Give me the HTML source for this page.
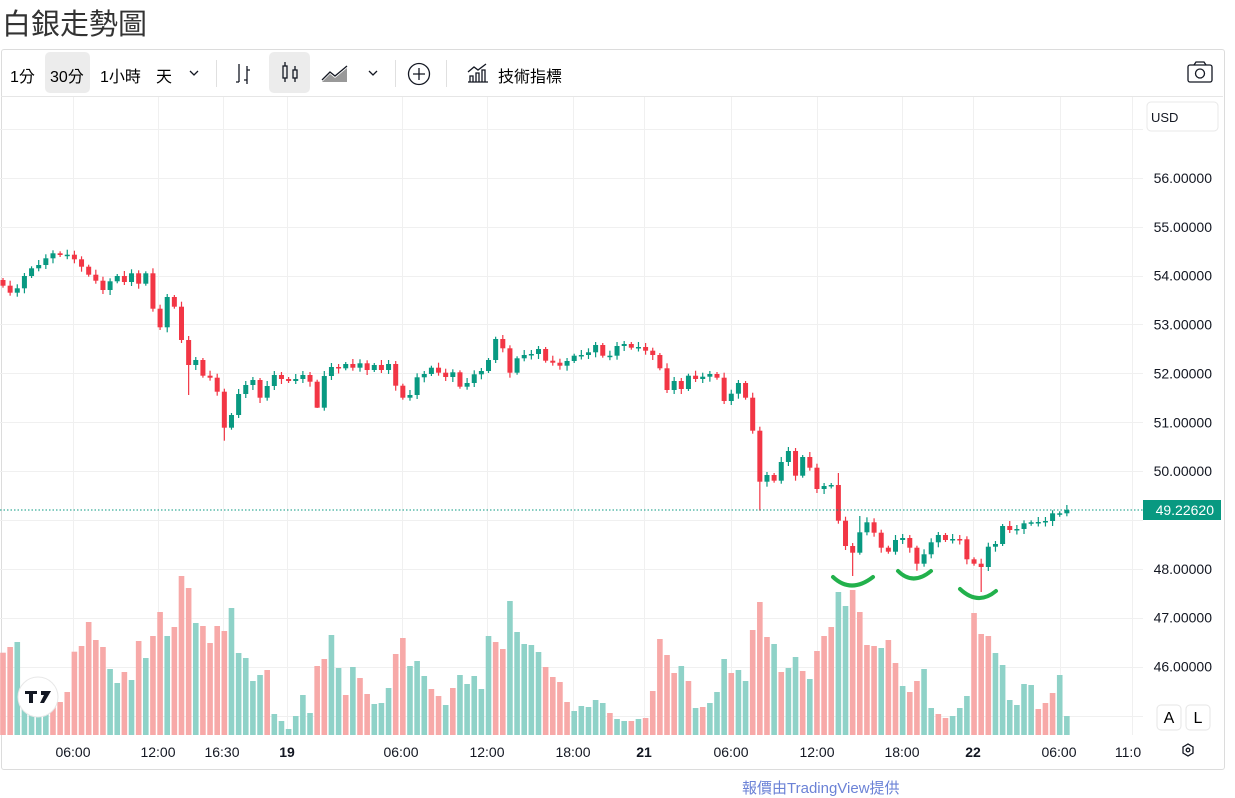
<!DOCTYPE html>
<html><head><meta charset="utf-8">
<style>
body{margin:0;width:1235px;height:787px;overflow:hidden;background:#fff;font-family:"Liberation Sans","Noto Sans CJK TC",sans-serif;position:relative}
.title{position:absolute;left:2px;top:1px;font-size:29px;color:#333;font-family:"Liberation Sans","Noto Sans CJK TC",sans-serif}
.box{position:absolute;left:1px;top:49px;width:1222px;height:719px;border:1px solid #dcdcdc;border-radius:3px}
.tb{position:absolute;left:1px;top:50px;width:1222px;height:46px;border-bottom:1px solid #e6e6e6}
.sel{position:absolute;background:#ececec;border-radius:5px}
.sep{position:absolute;top:60px;width:1px;height:27px;background:#e0e0e0}
.foot{position:absolute;left:742px;top:777px;font-size:15px;color:#6b82d6}
</style></head><body>
<div class="title">白銀走勢圖</div>
<div class="box"></div>
<div class="tb"></div>
<div class="sel" style="left:45px;top:52px;width:45px;height:41px"></div>
<div class="sel" style="left:269px;top:52px;width:41px;height:41px"></div>
<span style="position:absolute;left:10px;top:63px;font-size:16px">1分</span>
<span style="position:absolute;left:50px;top:63px;font-size:16px">30分</span>
<span style="position:absolute;left:100px;top:63px;font-size:16px">1小時</span>
<span style="position:absolute;left:156px;top:63px;font-size:16px">天</span>
<span style="position:absolute;left:498px;top:63px;font-size:16px">技術指標</span>
<div class="sep" style="left:216px"></div><div class="sep" style="left:395px"></div><div class="sep" style="left:446px"></div>
<svg style="position:absolute;left:0;top:0" width="1235" height="787">
<g fill="none" stroke="#131722" stroke-width="1.3">
<path d="M190 71l4 4 4-4"/><path d="M369 71l4 4 4-4"/><path d="M1206 114l3 3 3-3"/>
<path d="M239 64v18M236 82h3M247 66v18M247 70h3M247 80h-3"/>
<rect x="283" y="66" width="4" height="12"/><path d="M285 62v4M285 78v4"/><rect x="293" y="70" width="4" height="8"/><path d="M295 66v4M295 78v4"/>
<path d="M322 80l8-8 5 4 12-10"/>
<circle cx="419" cy="74" r="10.5"/><path d="M419 68v12M413 74h12"/>
<path d="M468 82h20M470 82v-6h3v6M476 82v-9h3v9M482 82v-12h3v12M468 72l6-5 4 3 8-6"/>
<rect x="1188" y="65" width="24" height="17" rx="2"/><circle cx="1200" cy="73.5" r="4.5"/><path d="M1194 65l2-3h8l2 3"/>
<path d="M1183 747l5-3 5 3v6l-5 3-5-3z"/><circle cx="1188" cy="750" r="1.8"/>
</g>
<path d="M322 82l8-8 5 4 12-10v14z" fill="#555" opacity=".6"/>
<g id="grid" stroke="#f0f0f0" stroke-width="1"></g>
<g id="vol"></g><g id="cnd"></g>
<line x1="0" y1="510" x2="1143" y2="510" stroke="#089981" stroke-dasharray="1.5,2" stroke-width="1"/>
<g id="lab" font-size="14" fill="#131722" font-family="Liberation Sans,sans-serif"></g>
<rect x="1143" y="500" width="78" height="20" fill="#089981"/>
<text x="1214" y="515" text-anchor="end" fill="#fff" font-size="14" font-family="Liberation Sans,sans-serif">49.22620</text>
<rect x="1147" y="102" width="71" height="29" rx="4" fill="#fff" stroke="#e8e8e8"/>
<text x="1151" y="122" font-size="13" fill="#131722" font-family="Liberation Sans,sans-serif">USD</text>
<rect x="1157" y="705" width="24" height="25" rx="4" fill="#fff" stroke="#e6e6e6"/><text x="1169" y="723" font-size="16" text-anchor="middle" font-family="Liberation Sans,sans-serif">A</text>
<rect x="1186" y="705" width="24" height="25" rx="4" fill="#fff" stroke="#e6e6e6"/><text x="1198" y="723" font-size="16" text-anchor="middle" font-family="Liberation Sans,sans-serif">L</text>
<circle cx="38" cy="697" r="20" fill="#fff" stroke="#e8e8e8"/>
<path d="M25 691h12v3h-4v9h-4v-9h-4z M41 691h10l-7 12h-4l4-8h-3z" fill="#131722"/>
<g fill="none" stroke="#22b14c" stroke-width="4" stroke-linecap="round">
<path d="M833 577q18 17 40 0"/><path d="M898 571q15 15 33 0"/><path d="M960 589q18 17 36 2"/>
</g>
</svg>
<div class="foot">報價由TradingView提供</div>
<script>
(function(){
var C=[285.7,292.7,288.3,276,268.3,265,258.3,253.3,255,254.7,259.3,266.7,274.7,280.7,290,281.3,276,282,273.3,283.7,273.3,308.7,327.3,297,306.7,340,365,360,375.7,377.7,391.7,427.7,415,394,385,380,397.7,386,375,379,381,379,375,381.7,407.7,376,367,368.3,364,367.7,363.3,370,365,370,364,385.7,397.7,395,377.3,374,367.7,372.7,377,372.3,386.7,383,374.3,371,360,339,348.3,372.7,358.3,355,354,349,360.7,362.7,365.7,361,355.7,355,352.3,345,355.7,355.7,346,344,347.7,347,350.7,355,368.3,390,381,389,375.7,379,376.7,374,377.7,401,393.7,383,397.7,430.7,481.7,475,480.7,462,451,475.7,457,467.7,489,486,485,520.7,546,552.7,532.3,522.3,532.7,547.7,551.7,540,538,547.7,563.7,554.3,542.3,535,540,539,539.3,559.3,563.7,567,546.7,544,526,530,529,523.3,522.3,522,521,513.3,513.3,510];
var V=[652.7,647,642,700,698,700,696,700,702,692,651.7,646,622,640,647,669,683,672,680,641,658,636,612,636,627,576,588,623,626,643,626,631,608,653,658,681,675,670,714,721,729,716,695,713,666,659,635,668,695,667,678,694,704,703,688,654,638,666,661,676,689,696,705,688,675,684,676,689,636,642,649,601,632,644,645,652,667,677,682,702,711,706,707,700,703,713,719,721,721,719,718,691,639,655,673,666,681,708,707,703,692,659,673,670,681,630,602,637,644,672,668,657,671,679,651,636,627,592,606,590,612,645,646,648,640,663,686,692,681,669,708,714,718,716,708,696,613,634,636,653,665,700,705,684,685,709,703,693,675,716];
var VC="rrgggggrrrrrrrrggrgrgrrgrrrgrrrrgggggrggggggrrggrgrrgggrrgggrrgrgggggrrgggggrrrrgggggrggrgrrrrrgrgrgggrggrrrgrggrgrrrggrrrrgrrgrrggrrgggrrrggggggrrrggggrrgggggrg";
var H={26:{l:395},31:{l:440.7},36:{l:403},44:{l:408},69:{h:336.7},106:{l:510.7},117:{h:473},119:{l:576},120:{h:516},128:{l:570.7},137:{l:592},22:{l:330}};
var ns="http://www.w3.org/2000/svg";
function el(p,t,a){var e=document.createElementNS(ns,t);for(var k in a)e.setAttribute(k,a[k]);p.appendChild(e);return e;}
var g=document.getElementById('grid');
[129,178,227,276,324,373,422,471,520,569,618,667,716].forEach(function(y){el(g,'line',{x1:0,y1:y+.5,x2:1143,y2:y+.5});});
[73,158,223,287,402,487,573,644,731,817,902,973,1060,1132].forEach(function(x){el(g,'line',{x1:x+.5,y1:97,x2:x+.5,y2:735});});
var lab=document.getElementById('lab');
var prices=['56.00000','55.00000','54.00000','53.00000','52.00000','51.00000','50.00000','49.00000','48.00000','47.00000','46.00000'];
prices.forEach(function(p,i){var y=178+i*48.86;if(i==7)return;var t=el(lab,'text',{x:1212,y:y+5,'text-anchor':'end'});t.textContent=p;});
var tl=[[73,'06:00'],[158,'12:00'],[222,'16:30'],[287,'19',1],[401,'06:00'],[487,'12:00'],[573,'18:00'],[644,'21',1],[731,'06:00'],[817,'12:00'],[902,'18:00'],[973,'22',1],[1059,'06:00'],[1128,'11:0']];
tl.forEach(function(a){var t=el(lab,'text',{x:a[0],y:757,'text-anchor':'middle','font-weight':a[2]?'bold':'normal'});t.textContent=a[1];});
var vg=document.getElementById('vol'),cg=document.getElementById('cnd');
for(var i=0;i<C.length;i++){
 var x=3+7.14*i;
 var vc=VC[i]=='g'?'#8fd2c8':'#f7a9a8';
 el(vg,'rect',{x:x-2.8,y:V[i],width:5.6,height:735-V[i],fill:vc});
 var o=i==0?280:C[i-1],c=C[i];
 var up=c<=o;var col=up?'#089981':'#f23645';
 var bt=Math.min(o,c),bb=Math.max(o,c);if(bb-bt<1.5){bb=bt+1.5;}
 var d=2+((i*7)%4),d2=2+((i*5)%4);
 var hi=bt-d,lo=bb+d2;if(H[i]){if(H[i].h)hi=H[i].h;if(H[i].l)lo=H[i].l;}
 el(cg,'line',{x1:x,y1:hi,x2:x,y2:lo,stroke:col,'stroke-width':1.2});
 el(cg,'rect',{x:x-2.5,y:bt,width:5,height:bb-bt,fill:col});
}
})();
</script>
</body></html>
